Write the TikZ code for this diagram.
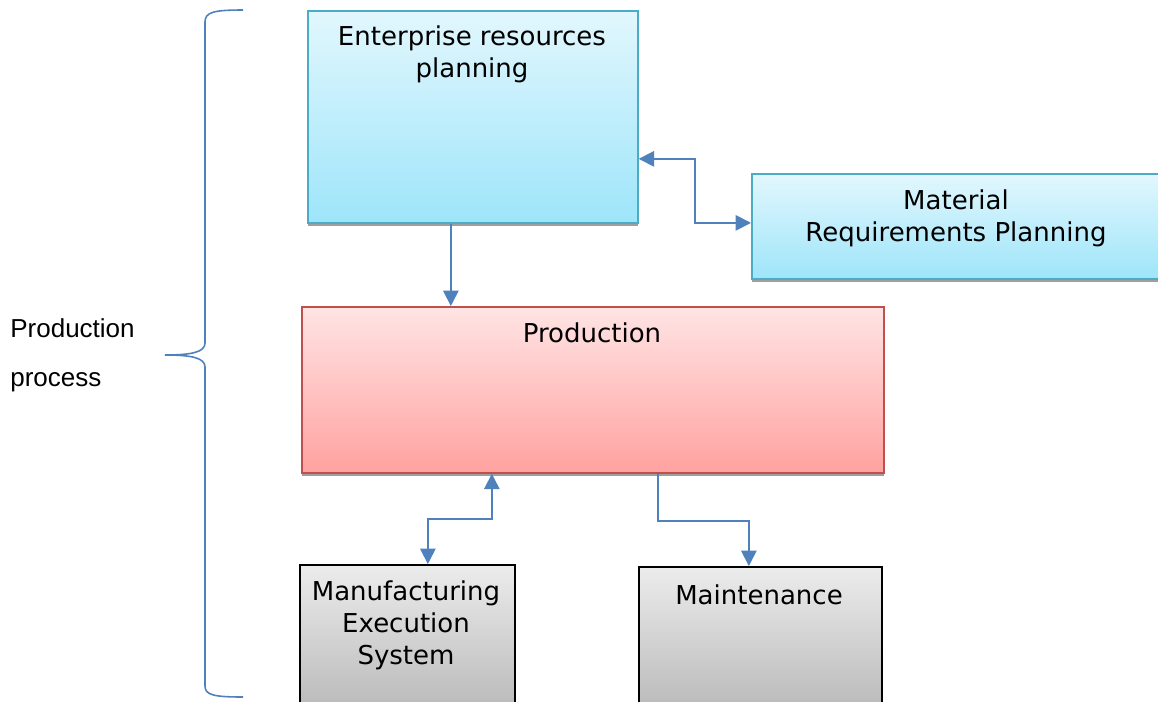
\documentclass[tikz,border=0pt]{standalone}
\usepackage{fontspec}
\setmainfont{DejaVu Sans}
\newfontfamily\sidefont{Liberation Sans}
\usetikzlibrary{arrows.meta,shadows}

\definecolor{linkblue}{RGB}{79,129,189}
\definecolor{cyanedge}{RGB}{75,172,198}
\definecolor{cyantop}{RGB}{226,247,253}
\definecolor{cyanbot}{RGB}{158,229,250}
\definecolor{rededge}{RGB}{192,80,77}
\definecolor{redtop}{RGB}{255,228,228}
\definecolor{redbot}{RGB}{255,162,160}
\definecolor{greytop}{RGB}{236,236,236}
\definecolor{greybot}{RGB}{184,184,184}

\tikzset{
  box/.style={rectangle, line width=1pt, anchor=north west, inner sep=0pt,
    drop shadow={shadow xshift=0pt, shadow yshift=-1.8pt, fill=gray!75, opacity=1}},
  cyanbox/.style={box, draw=cyanedge, top color=cyantop, bottom color=cyanbot},
  redbox/.style={box, draw=rededge, top color=redtop, bottom color=redbot},
  greybox/.style={box, draw=black, top color=greytop, bottom color=greybot},
  boxtext/.style={align=center, inner sep=0pt, font=\fontsize{14.8}{18.2}\selectfont},
  link/.style={draw=linkblue, line width=1pt, -{Triangle[length=0.31cm,width=0.31cm]}},
  dlink/.style={link, {Triangle[length=0.31cm,width=0.31cm]}-{Triangle[length=0.31cm,width=0.31cm]}}
}

\begin{document}
\begin{tikzpicture}[x=0.02cm,y=-0.02cm]
\useasboundingbox (0,0) rectangle (1158,701);

% boxes
\node[cyanbox, minimum width=6.6cm,  minimum height=4.24cm] (erp)   at (307,10)  {};
\node[cyanbox, minimum width=8.24cm, minimum height=2.1cm]  (mrp)   at (751,173) {};
\node[redbox,  minimum width=11.64cm,minimum height=3.32cm] (prod)  at (301,306) {};
\node[greybox, minimum width=4.3cm,  minimum height=3.0cm]  (mes)   at (299,564) {};
\node[greybox, minimum width=4.86cm, minimum height=2.96cm] (maint) at (638,566) {};

% box texts
\node[boxtext] (erptext)   at (472,54)  {Enterprise resources\\planning};
\node[boxtext] (mrptext)   at (956,218) {Material\\Requirements Planning};
\node[boxtext] (prodtext)  at (592,333) {Production};
\node[boxtext] (mestext)   at (406,625) {Manufacturing\\Execution\\System};
\node[boxtext] (mainttext) at (759,595) {Maintenance};

% connectors
\draw[link]  ([xshift=-0.44cm]erp.south) -- ([xshift=-0.44cm]erp.south |- prod.north);
\draw[dlink] ([yshift=-0.84cm]erp.east) -- ++(56,0) |- ([yshift=0.07cm]mrp.west);
\draw[dlink] ([xshift=-2.02cm]prod.south) -- ++(0,45) -| ([xshift=0.41cm]mes.north);
\draw[link]  ([xshift=1.3cm]prod.south) -- ++(0,47) -| ([xshift=-0.23cm]maint.north);

% brace and its label
\draw[linkblue, line width=0.9pt] (243,10) .. controls (214,10) and (205,12) .. (205,22)
  -- (205,343) .. controls (205,352) and (192,355) .. (165,355)
  .. controls (192,355) and (205,358) .. (205,367)
  -- (205,686) .. controls (205,695) and (214,697) .. (243,697);
\node[anchor=west, align=left, inner sep=0pt, font=\sidefont\fontsize{14.8}{27.8}\selectfont] (proc) at (10,355) {Production\\process};

\end{tikzpicture}
\end{document}
